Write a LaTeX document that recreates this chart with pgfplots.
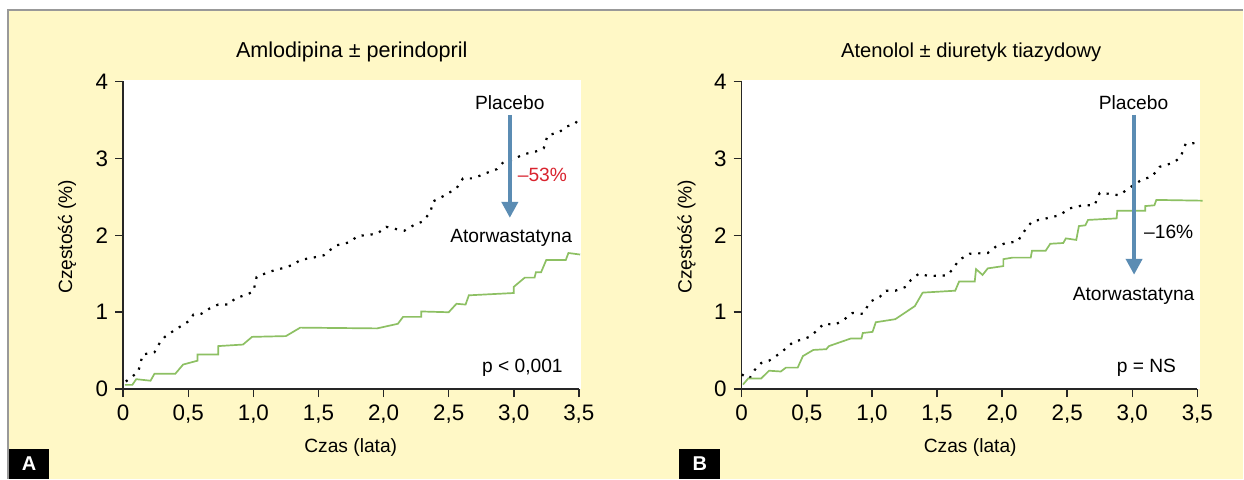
\documentclass[border=0pt]{standalone}
\usepackage{pgfplots}
\pgfplotsset{compat=1.18}
\usepackage{fontspec}
\setmainfont{Liberation Sans}
\usetikzlibrary{arrows.meta}

\definecolor{bgyellow}{HTML}{FFF8C6}
\definecolor{atorgreen}{HTML}{8DC063}
\definecolor{arrowblue}{HTML}{5B8CB3}
\definecolor{redtxt}{HTML}{D9232E}

\pgfplotsset{
  panel/.style={
    scale only axis,
    width=228pt, height=154pt,
    xmin=0, xmax=3.5, ymin=0, ymax=4,
    axis x line*=bottom, axis y line*=left,
    axis line style={line width=0.75pt, black!85},
    every tick/.style={line width=0.75pt, black!85},
    major tick length=4pt,
    tick align=outside,
    xtick={0,0.5,1,1.5,2,2.5,3,3.5},
    xticklabels={0,{0,5},{1,0},{1,5},{2,0},{2,5},{3,0},{3,5}},
    ytick={0,1,2,3,4},
    /pgf/number format/assume math mode=true,
    tick label style={font=\fontsize{11.2}{13}\selectfont},
    xticklabel style={yshift=-0.5pt},
    clip=false,
  },
  placebo/.style={black, line width=1.1pt, dash pattern=on 1.1pt off 3.4pt},
  ator/.style={atorgreen, line width=0.85pt},
}

\begin{document}
\begin{tikzpicture}
% background
\fill[white] (0,0) rectangle (622pt,239.5pt);
\fill[bgyellow] (4.25pt,0) rectangle (622pt,234.5pt);
\draw[black!40, line width=1pt] (4.25pt,0) -- (4.25pt,234.5pt) -- (622pt,234.5pt);
% white plot areas
\fill[white] (61.65pt,44.75pt) rectangle (290.85pt,199.5pt);
\fill[white] (371.15pt,44.75pt) rectangle (600.5pt,199.5pt);

% panel A
\begin{axis}[panel, at={(61.65pt,44.75pt)}, anchor=south west]
\addplot[placebo] coordinates {
(0.02,0.10) (0.115,0.225) (0.15,0.45) (0.24,0.48) (0.28,0.60) (0.32,0.68)
(0.37,0.74) (0.435,0.81) (0.50,0.88) (0.54,0.97) (0.60,0.98) (0.665,1.05)
(0.73,1.10) (0.81,1.10) (0.86,1.18) (0.95,1.23) (1.00,1.27) (1.025,1.46)
(1.13,1.53) (1.24,1.58) (1.31,1.62) (1.36,1.68) (1.46,1.71) (1.54,1.74)
(1.59,1.81) (1.64,1.87) (1.74,1.91) (1.80,1.99) (1.95,2.02) (2.02,2.11)
(2.10,2.08) (2.16,2.06) (2.23,2.13) (2.30,2.18) (2.36,2.30) (2.38,2.44)
(2.46,2.51) (2.56,2.61) (2.61,2.74) (2.69,2.74) (2.79,2.81) (2.87,2.86)
(2.92,2.95) (2.99,2.98) (3.07,3.05) (3.17,3.09) (3.23,3.13) (3.26,3.30)
(3.35,3.34) (3.40,3.41) (3.47,3.45) (3.49,3.49)
};
\addplot[ator] coordinates {
(0.013,0.056) (0.07,0.056) (0.10,0.13) (0.21,0.11) (0.24,0.20) (0.40,0.20)
(0.46,0.32) (0.57,0.37) (0.57,0.45) (0.73,0.45) (0.73,0.56) (0.92,0.58)
(0.99,0.68) (1.25,0.69) (1.36,0.80) (1.95,0.79) (2.11,0.85) (2.15,0.94)
(2.29,0.94) (2.29,1.01) (2.50,1.00) (2.56,1.11) (2.63,1.10) (2.655,1.22)
(3.00,1.25) (3.00,1.33) (3.085,1.45) (3.16,1.45) (3.17,1.52) (3.21,1.52)
(3.25,1.68) (3.40,1.68) (3.42,1.77) (3.51,1.75)
};
\draw[arrowblue, line width=2pt, -{Triangle[width=8pt,length=8pt]}] (axis cs:2.97,3.565) -- (axis cs:2.97,2.227);
\node[font=\fontsize{9.6}{11}\selectfont] at (axis cs:2.97,3.72) {Placebo};
\node[font=\fontsize{9.6}{11}\selectfont] at (axis cs:2.98,1.97) {Atorwastatyna};
\node[font=\fontsize{9.6}{11}\selectfont, text=redtxt] at (axis cs:3.22,2.79) {–53\%};
\node[font=\fontsize{9.6}{11}\selectfont, anchor=east] at (axis cs:3.43,0.28) {p < 0,001};
\end{axis}

% panel B
\begin{axis}[panel, at={(371.15pt,44.75pt)}, anchor=south west]
\addplot[placebo] coordinates {
(0.00,0.19) (0.06,0.14) (0.10,0.25) (0.15,0.34) (0.21,0.37) (0.28,0.45)
(0.34,0.53) (0.40,0.62) (0.455,0.64) (0.52,0.68) (0.57,0.75) (0.63,0.85)
(0.72,0.84) (0.79,0.91) (0.85,0.99) (0.93,0.98) (0.99,1.14) (1.06,1.20)
(1.11,1.28) (1.18,1.28) (1.26,1.33) (1.30,1.42) (1.36,1.50) (1.44,1.47)
(1.58,1.48) (1.62,1.56) (1.67,1.68) (1.75,1.76) (1.89,1.77) (1.95,1.85)
(2.03,1.90) (2.12,1.92) (2.16,2.03) (2.23,2.18) (2.34,2.22) (2.44,2.26)
(2.52,2.35) (2.62,2.39) (2.71,2.39) (2.75,2.55) (2.82,2.54) (2.90,2.52)
(2.98,2.62) (3.08,2.73) (3.15,2.76) (3.21,2.89) (3.31,2.94) (3.37,3.01)
(3.41,3.19) (3.49,3.20)
};
\addplot[ator] coordinates {
(0.01,0.06) (0.05,0.14) (0.15,0.14) (0.21,0.24) (0.30,0.23) (0.34,0.28)
(0.43,0.28) (0.47,0.43) (0.55,0.51) (0.65,0.52) (0.67,0.56) (0.84,0.66)
(0.92,0.66) (0.93,0.73) (1.005,0.745) (1.03,0.87) (1.18,0.91) (1.33,1.08)
(1.39,1.255) (1.64,1.28) (1.67,1.40) (1.79,1.40) (1.80,1.56) (1.85,1.485)
(1.89,1.57) (2.01,1.60) (2.01,1.69) (2.08,1.71) (2.22,1.71) (2.23,1.80)
(2.335,1.80) (2.37,1.89) (2.47,1.90) (2.49,1.96) (2.57,1.94) (2.59,2.12)
(2.64,2.13) (2.66,2.20) (2.88,2.22) (2.885,2.32) (3.10,2.32) (3.10,2.38)
(3.17,2.39) (3.185,2.46) (3.54,2.45)
};
\draw[arrowblue, line width=2pt, -{Triangle[width=8pt,length=8pt]}] (axis cs:3.014,3.565) -- (axis cs:3.014,1.487);
\node[font=\fontsize{9.6}{11}\selectfont] at (axis cs:3.01,3.72) {Placebo};
\node[font=\fontsize{9.6}{11}\selectfont] at (axis cs:3.01,1.21) {Atorwastatyna};
\node[font=\fontsize{9.6}{11}\selectfont] at (axis cs:3.28,2.045) {–16\%};
\node[font=\fontsize{9.6}{11}\selectfont, anchor=east] at (axis cs:3.39,0.28) {p = NS};
\end{axis}

% titles and axis labels
\node[font=\fontsize{10.8}{12}\selectfont] at (176pt,213.5pt) {Amlodipina ± perindopril};
\node[font=\fontsize{10.1}{12}\selectfont] at (486pt,213.5pt) {Atenolol ± diuretyk tiazydowy};
\node[font=\fontsize{9.6}{11}\selectfont] at (175.5pt,15.5pt) {Czas (lata)};
\node[font=\fontsize{9.6}{11}\selectfont] at (485.5pt,15.5pt) {Czas (lata)};
\node[font=\fontsize{9.6}{11}\selectfont, rotate=90] at (33.5pt,121pt) {Częstość (\%)};
\node[font=\fontsize{9.6}{11}\selectfont, rotate=90] at (343.5pt,121pt) {Częstość (\%)};

% panel letters
\fill[black] (4.5pt,0) rectangle (24.5pt,15pt);
\node[text=white, font=\bfseries\fontsize{10}{12}\selectfont] at (14.5pt,7.3pt) {A};
\fill[black] (340pt,0) rectangle (360.5pt,15pt);
\node[text=white, font=\bfseries\fontsize{10}{12}\selectfont] at (350.25pt,7.3pt) {B};
\end{tikzpicture}
\end{document}
